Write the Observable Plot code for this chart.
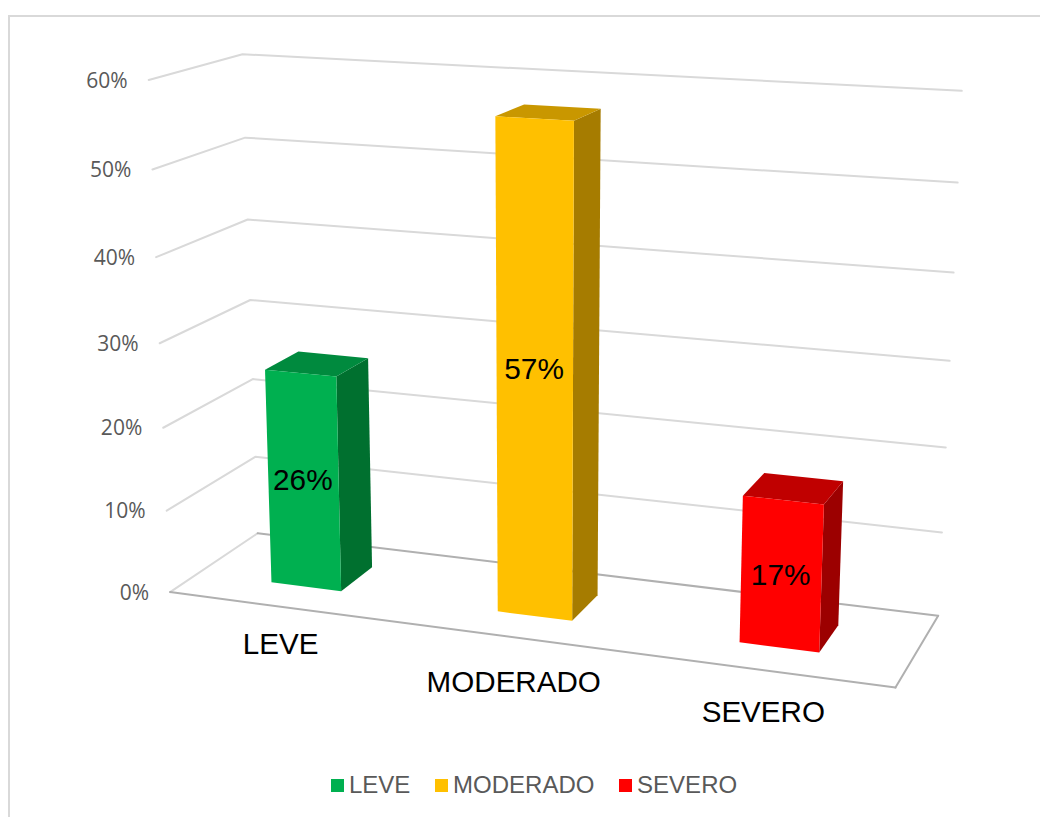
<!DOCTYPE html>
<html><head><meta charset="utf-8">
<script src="https://cdn.jsdelivr.net/npm/d3@7"></script>
<script src="https://cdn.jsdelivr.net/npm/@observablehq/plot@0.6"></script>
<style>
html,body{margin:0;padding:0;background:#fff;overflow:hidden}
#wrap{position:relative;width:1040px;height:817px;overflow:hidden}
#frame{position:absolute;left:8px;top:15px;width:1032px;height:802px;border-top:2px solid #D9D9D9;border-left:2px solid #D9D9D9;box-sizing:border-box}
#legend{position:absolute;left:331px;top:770px;display:flex;gap:24.7px;font:24px "Liberation Sans",Arial,sans-serif;color:#595959;line-height:30px}
#legend .it{display:flex;align-items:center;gap:5px}
#legend i{display:block;width:13px;height:13px}
svg{position:absolute;left:0;top:0;background:transparent}
</style></head><body><div id="wrap"><div id="frame"></div><div id="legend"></div></div>
<script>
const categories = ["LEVE", "MODERADO", "SEVERO"];
const values = [26, 57, 17];
const frontColors = ["#00B050", "#FFC000", "#FF0000"];
const topColors = ["#008A3E", "#C99700", "#C00000"];
const sideColors = ["#00702F", "#A67C00", "#9C0000"];
const ticks = [0, 10, 20, 30, 40, 50, 60];

// View of the 3D box: camera fitted on the chart's box corners (u across, d deep, v value)
const view = [
 [0,0,0,170,591],[1,0,0,895,687],[0,1,0,257,533],[1,1,0,938,615],
 [0,0,60,148,79],[0,1,60,243,54],[1,1,60,961,90],
 [0,0,30,159,344],[0,1,30,249,299],[1,1,30,949,361]
];
function fit(pts){
  const A=[],b=[];
  for(const [u,d,v0,px,py] of pts){
    const v=v0/60;
    A.push([u,d,v,1,0,0,0,0,-px*u,-px*d,-px*v]);b.push(px);
    A.push([0,0,0,0,u,d,v,1,-py*u,-py*d,-py*v]);b.push(py);
  }
  const n=11,M=Array.from({length:n},(_,i)=>{
    const r=new Array(n+1).fill(0);
    for(let k=0;k<A.length;k++){for(let j=0;j<n;j++)r[j]+=A[k][i]*A[k][j];r[n]+=A[k][i]*b[k];}
    return r;});
  for(let i=0;i<n;i++){
    let p=i;for(let r=i+1;r<n;r++)if(Math.abs(M[r][i])>Math.abs(M[p][i]))p=r;
    [M[i],M[p]]=[M[p],M[i]];
    for(let r=0;r<n;r++)if(r!==i){const f=M[r][i]/M[i][i];for(let c=i;c<=n;c++)M[r][c]-=f*M[i][c];}
  }
  return M.map((r,i)=>r[n]/r[i]);
}
const P=fit(view);
function project(u,d,v0){
  const v=v0/60,w=P[8]*u+P[9]*d+P[10]*v+1;
  return [(P[0]*u+P[1]*d+P[2]*v+P[3])/w,(P[4]*u+P[5]*d+P[6]*v+P[7])/w];
}
const barW=0.105, d0=0.31, d1=0.70;
const uOf=i=>(i+0.5)/categories.length-0.002;
const catShift=[-2,5,2], labelShift=[-1,-5,1];

const grid=[];
ticks.filter(t=>t>0).forEach(t=>{[[0,0],[0,1],[1,1]].forEach(([u,d])=>{const [x,y]=project(u,d,t);grid.push({t,x,y});});});
const seg=(key,a,b)=>[a,b].map(([u,d])=>{const [x,y]=project(u,d,0);return{key,x,y};});
const floorLight=seg("l",[0,0],[0,1]);
const floorDark=[...seg("b",[0,1],[1,1]),...seg("f",[0,0],[1,0]),...seg("r",[1,0],[1,1])];

const faces=[];
values.forEach((val,i)=>{
  const c=uOf(i),u0=c-barW/2,u1=c+barW/2;
  const add=(name,color,cs)=>cs.forEach(([u,d,v])=>{const [x,y]=project(u,d,v);faces.push({key:categories[i]+name,color,x,y});});
  add("side",sideColors[i],[[u1,d0,0],[u1,d1,0],[u1,d1,val],[u1,d0,val]]);
  add("top",topColors[i],[[u0,d0,val],[u1,d0,val],[u1,d1,val],[u0,d1,val]]);
  add("front",frontColors[i],[[u0,d0,0],[u1,d0,0],[u1,d0,val],[u0,d0,val]]);
});

const valueLabels=values.map((val,i)=>{const [x,y]=project(uOf(i),d0,val/2);return{x,y:y+labelShift[i],text:val+"%"};});
const catLabels=categories.map((text,i)=>{const [x,y]=project(uOf(i),0,0);return{x,y:y+catShift[i],text};});
const tickLabels=ticks.map(t=>{const [x,y]=project(0,0,t);return{x,y,text:t+"%"};});

const chart=Plot.plot({
  width:1040,height:817,margin:0,
  x:{domain:[0,1040],range:[0,1040],axis:null},
  y:{domain:[0,817],range:[0,817],axis:null},
  color:{type:"identity"},
  style:{background:"transparent"},
  marks:[
    Plot.line(grid,{x:"x",y:"y",z:"t",stroke:"#D9D9D9",strokeWidth:2,curve:"linear"}),
    Plot.line(floorLight,{x:"x",y:"y",z:"key",stroke:"#D9D9D9",strokeWidth:2}),
    Plot.line(floorDark,{x:"x",y:"y",z:"key",stroke:"#B0B0B0",strokeWidth:2}),
    Plot.line(faces,{x:"x",y:"y",z:"key",fill:"color",stroke:null}),
    Plot.text(tickLabels,{x:"x",y:"y",text:"text",textAnchor:"end",dx:-21,dy:1,fontFamily:"Open Sans",fontSize:21,fill:"#595959"}),
    Plot.text(valueLabels,{x:"x",y:"y",text:"text",dx:-0.5,fontFamily:"Liberation Sans",fontSize:29.8,fill:"#000"}),
    Plot.text(catLabels,{x:"x",y:"y",text:"text",dx:1,dy:40,fontFamily:"Liberation Sans",fontSize:29.6,fill:"#000"})
  ]
});
document.getElementById("wrap").appendChild(chart);
const lg=document.getElementById("legend");
categories.forEach((c,i)=>{const d=document.createElement("div");d.className="it";
  const s=document.createElement("i");s.style.background=frontColors[i];
  const t=document.createElement("span");t.textContent=c;d.append(s,t);lg.append(d);});
</script></body></html>
